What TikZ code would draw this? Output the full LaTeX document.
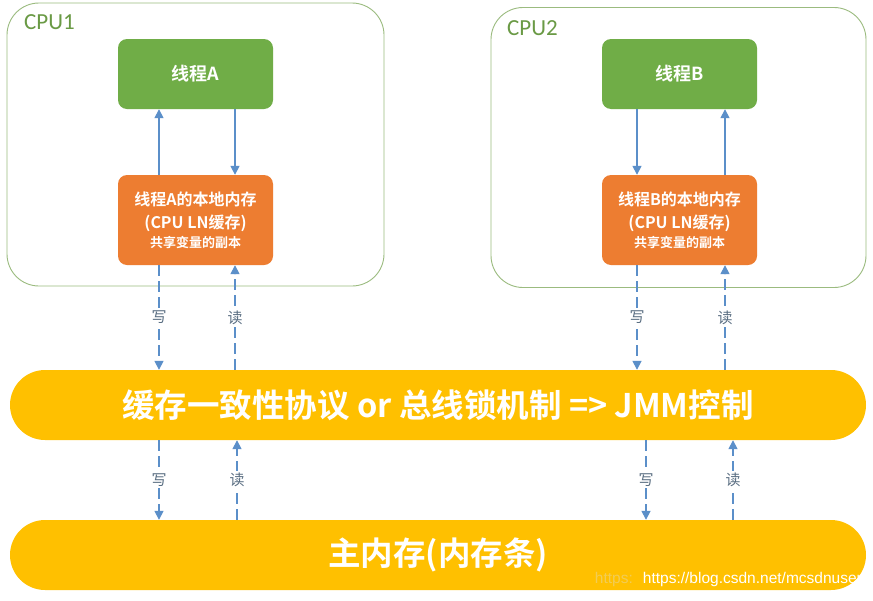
\documentclass[tikz,border=0pt]{standalone}
\usepackage{fontspec}
\setmainfont{Noto Sans CJK SC}
\newfontfamily\cjk{Noto Sans CJK SC}
\newfontfamily\cjkb{Noto Sans CJK SC Bold}
\newfontfamily\lat{Carlito}
\newfontfamily\wm{Liberation Sans}
\usetikzlibrary{arrows.meta,calc}
\definecolor{cpuedge}{HTML}{9BBB7F}
\definecolor{cputxt}{HTML}{6A9A45}
\definecolor{thgreen}{HTML}{70AD47}
\definecolor{memorange}{HTML}{ED7D31}
\definecolor{bandyellow}{HTML}{FFC000}
\definecolor{arrblue}{HTML}{5B8FC9}
\definecolor{lbl}{HTML}{5A6E82}
\definecolor{ghost}{HTML}{F2CC55}
\tikzset{
  cpubox/.style={draw=cpuedge, line width=0.9pt, rounded corners=32pt, minimum width=#1, minimum height=283pt, inner sep=0pt},
  thread/.style={fill=thgreen, rounded corners=9pt, minimum width=155pt, minimum height=70pt, text=white, font=\cjkb\fontsize{18}{20}\selectfont, inner sep=0pt},
  local/.style={fill=memorange, rounded corners=9pt, minimum width=155pt, minimum height=90pt, text=white, align=center, inner sep=0pt, font=\cjkb\fontsize{16}{23}\selectfont},
  band/.style={fill=bandyellow, rounded corners=35pt, minimum width=856pt, minimum height=70pt, text=white, inner sep=0pt, font=\cjkb\fontsize{32.5}{34}\selectfont},
  cpulbl/.style={text=cputxt, font=\lat\fontsize{23}{25}\selectfont, anchor=west, inner sep=0pt},
  solidarr/.style={draw=arrblue, line width=1.6pt, -{Triangle[width=9pt,length=9pt]}},
  dasharr/.style={draw=arrblue, line width=1.6pt, dash pattern=on 11pt off 5pt, -{Triangle[width=9pt,length=9pt]}},
  rw/.style={fill=white, text=lbl, font=\cjk\fontsize{15}{16}\selectfont, inner sep=2pt}
}
\begin{document}
\begin{tikzpicture}[x=1pt,y=-1pt]
\useasboundingbox[fill=white] (0,0) rectangle (873,600);
% CPU boxes
\node[cpubox=377pt] (cpu1) at (195.5,144.5) {};
\node[cpubox=375pt, minimum height=280pt] (cpu2) at (678.5,147.5) {};
\node[cpulbl] (c1l) at (24,22) {CPU1};
\node[cpulbl] (c2l) at (507,28) {CPU2};
% threads
\node[thread] (ta) at (195.5,74) {线程A};
\node[thread] (tb) at (679.5,74) {线程B};
\node[local] (la) at (195.5,220) {线程A的本地内存\\(CPU LN缓存)\\[-4pt]{\fontsize{13}{16}\selectfont 共享变量的副本}};
\node[local] (lb) at (679.5,220) {线程B的本地内存\\(CPU LN缓存)\\[-4pt]{\fontsize{13}{16}\selectfont 共享变量的副本}};
% bands
\node[band] (b1) at (438,405) {缓存一致性协议 or 总线锁机制 => JMM控制};
\node[band] (b2) at (438,555) {主内存(内存条)};
\node[anchor=east, text=ghost, font=\wm\fontsize{15.5}{17}\selectfont, inner sep=0pt] (wg) at (633,579) {https:};
\node[anchor=east, text=white, font=\wm\fontsize{15.5}{17}\selectfont, inner sep=0pt] (wm) at (862,579) {https://blog.csdn.net/mcsdnuser};
% x positions
\coordinate (xa) at (159,0);
\coordinate (xb) at (235,0);
\coordinate (xc) at (637,0);
\coordinate (xd) at (725,0);
\coordinate (xa2) at (159,0);
\coordinate (xb2) at (237,0);
\coordinate (xc2) at (646,0);
\coordinate (xd2) at (733,0);
% thread <-> local
\draw[solidarr] (la.north -| xa) -- (ta.south -| xa);
\draw[solidarr] (ta.south -| xb) -- (la.north -| xb);
\draw[solidarr] (tb.south -| xc) -- (lb.north -| xc);
\draw[solidarr] (lb.north -| xd) -- (tb.south -| xd);
% local <-> band1
\draw[dasharr] (la.south -| xa) -- node[rw] (w1) {写} (b1.north -| xa);
\draw[dasharr] (b1.north -| xb) -- node[rw] (r1) {读} (la.south -| xb);
\draw[dasharr] (lb.south -| xc) -- node[rw] (w2) {写} (b1.north -| xc);
\draw[dasharr] (b1.north -| xd) -- node[rw] (r2) {读} (lb.south -| xd);
% band1 <-> band2
\draw[dasharr] (b1.south -| xa2) -- node[rw] (w3) {写} (b2.north -| xa2);
\draw[dasharr] (b2.north -| xb2) -- node[rw] (r3) {读} (b1.south -| xb2);
\draw[dasharr] (b1.south -| xc2) -- node[rw] (w4) {写} (b2.north -| xc2);
\draw[dasharr] (b2.north -| xd2) -- node[rw] (r4) {读} (b1.south -| xd2);
\end{tikzpicture}
\end{document}
